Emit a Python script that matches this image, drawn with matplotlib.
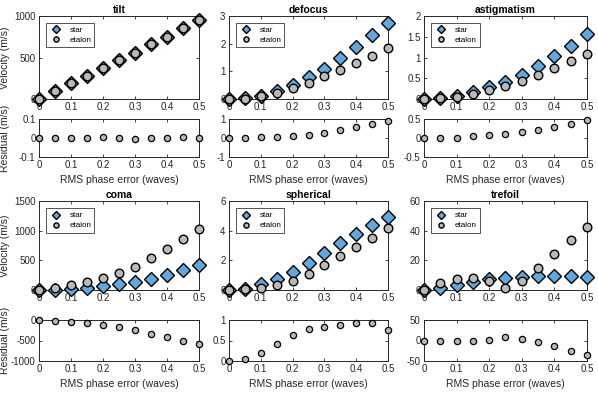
import matplotlib
matplotlib.use("Agg")
import matplotlib.pyplot as plt

plt.rcParams['font.family'] = ['Liberation Sans', 'DejaVu Sans']

rms = [0, 0.05, 0.1, 0.15, 0.2, 0.25, 0.3, 0.35, 0.4, 0.45, 0.5]

names = ['tilt', 'defocus', 'astigmatism', 'coma', 'spherical', 'trefoil']

star = {
    'tilt': [0, 93, 190, 275, 368, 466, 559, 660, 753, 850, 947],
    'defocus': [0, 0.02, 0.12, 0.3, 0.52, 0.78, 1.1, 1.48, 1.88, 2.33, 2.76],
    'astigmatism': [0, 0.02, 0.07, 0.16, 0.28, 0.42, 0.59, 0.8, 1.03, 1.28, 1.56],
    'coma': [0, 3, 15, 38, 65, 100, 143, 192, 258, 330, 423],
    'spherical': [0, 0.07, 0.4, 0.76, 1.24, 1.84, 2.48, 3.17, 3.79, 4.39, 4.9],
    'trefoil': [0, 1.4, 3.7, 5.7, 7.1, 8.0, 8.7, 9.2, 9.2, 9.2, 8.7],
}

etalon = {
    'tilt': [0, 93, 190, 275, 368, 466, 559, 660, 753, 850, 947],
    'defocus': [0, 0.0, 0.1, 0.23, 0.38, 0.59, 0.82, 1.04, 1.31, 1.57, 1.86],
    'astigmatism': [0, 0.02, 0.06, 0.13, 0.21, 0.31, 0.44, 0.58, 0.74, 0.91, 1.09],
    'coma': [0, 38, 82, 132, 198, 286, 396, 533, 687, 857, 1027],
    'spherical': [0, 0.05, 0.14, 0.32, 0.62, 1.1, 1.68, 2.32, 2.92, 3.49, 4.18],
    'trefoil': [0, 4.4, 7.1, 7.8, 6.0, 1.4, 6.0, 14.5, 24.1, 33.5, 42.4],
}

resid = {
    'tilt': [0, 0, 0.001, 0, 0.004, 0.001, -0.004, 0.001, 0.001, 0.003, 0.001],
    'defocus': [0, 0.02, 0.03, 0.06, 0.1, 0.17, 0.28, 0.42, 0.57, 0.75, 0.92],
    'astigmatism': [0, -0.01, 0, 0.04, 0.07, 0.1, 0.15, 0.22, 0.3, 0.38, 0.48],
    'coma': [0, -16, -48, -80, -120, -170, -250, -333, -420, -500, -575],
    'spherical': [0.01, 0.04, 0.2, 0.42, 0.63, 0.78, 0.84, 0.87, 0.92, 0.92, 0.76],
    'trefoil': [0, -1.6, -2.4, -1.6, 2.4, 8.0, 4.8, -4.8, -14.5, -25, -34.7],
}

main_ylim = {
    'tilt': (0, 1000, [0, 500, 1000]),
    'defocus': (0, 3, [0, 1, 2, 3]),
    'astigmatism': (0, 2, [0, 0.5, 1, 1.5, 2]),
    'coma': (0, 1500, [0, 500, 1000, 1500]),
    'spherical': (0, 6, [0, 2, 4, 6]),
    'trefoil': (0, 60, [0, 20, 40, 60]),
}

resid_ylim = {
    'tilt': (-0.1, 0.1, [-0.1, 0, 0.1]),
    'defocus': (-1, 1, [-1, 0, 1]),
    'astigmatism': (-0.5, 0.5, [-0.5, 0, 0.5]),
    'coma': (-1000, 0, [-1000, -500, 0]),
    'spherical': (0, 1, [0, 0.5, 1]),
    'trefoil': (-50, 50, [-50, 0, 50]),
}

W, H = 598, 397
col_x = [(39, 199), (229, 388), (424, 587)]
row_main = [(16, 99), (201, 290)]
row_res = [(119, 157), (320, 361)]

dark = '#262626'
blue = '#62a8dc'
gray = '#b9b9b9'


def rect(xs, ys):
    return [xs[0] / W, 1 - ys[1] / H, (xs[1] - xs[0]) / W, (ys[1] - ys[0]) / H]


def style(ax, lim):
    ax.set_xlim(0, 0.5)
    ax.set_xticks([0, 0.1, 0.2, 0.3, 0.4, 0.5])
    ax.set_xticklabels(['0', '0.1', '0.2', '0.3', '0.4', '0.5'])
    ax.set_ylim(lim[0], lim[1])
    ax.set_yticks(lim[2])
    ax.set_yticklabels(['%g' % v for v in lim[2]])
    ax.tick_params(direction='in', length=2, width=0.6, top=True, right=True,
                   labelsize=7, colors=dark, pad=2.5)
    for s in ax.spines.values():
        s.set_color(dark)
        s.set_linewidth(0.7)


fig = plt.figure(figsize=(W / 100, H / 100), dpi=100)

# ylabel centre sits about 10 px from the figure edge
lab_x = (10 - col_x[0][0]) / (col_x[0][1] - col_x[0][0])

for i, name in enumerate(names):
    r, c = divmod(i, 3)
    ax = fig.add_axes(rect(col_x[c], row_main[r]))
    ax.plot(rms, star[name], 'D', ms=7, mfc=blue, mec='black', mew=1.0,
            clip_on=False, label='star', zorder=3)
    ax.plot(rms, etalon[name], 'o', ms=6.2, mfc=gray, mec='black', mew=1.0,
            clip_on=False, label='etalon', zorder=4)
    style(ax, main_ylim[name])
    ax.set_title(name, fontsize=7.5, fontweight='bold', pad=2.5, color='black')
    leg = ax.legend(loc='upper left', bbox_to_anchor=(0.044, 0.916), fontsize=5.8,
                    frameon=True, fancybox=False, edgecolor=dark, markerscale=0.6,
                    handlelength=1.6, handletextpad=0.9, borderpad=0.4,
                    labelspacing=0.3, borderaxespad=0)
    leg.get_frame().set_linewidth(0.7)
    if c == 0:
        ax.set_ylabel('Velocity (m/s)', fontsize=7.5, color=dark)
        ax.yaxis.set_label_coords(lab_x, 0.5)

    axr = fig.add_axes(rect(col_x[c], row_res[r]))
    axr.plot(rms, resid[name], 'o', ms=4.5, mfc=gray, mec='black', mew=0.9,
             clip_on=False, zorder=3)
    style(axr, resid_ylim[name])
    axr.set_xlabel('RMS phase error (waves)', fontsize=7.5, color=dark, labelpad=3)
    if c == 0:
        axr.set_ylabel('Residual (m/s)', fontsize=7.5, color=dark)
        axr.yaxis.set_label_coords(lab_x, 0.5)

fig.savefig('out.png', dpi=100)
